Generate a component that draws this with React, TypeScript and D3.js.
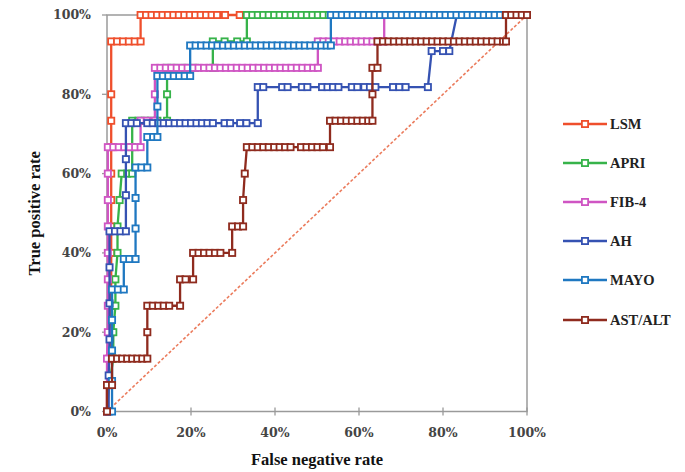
import React from "react";
import * as d3 from "d3";

const W = 685;
const H = 472;
const plot = { left: 107, top: 15, right: 527, bottom: 411.5 };

const xTicks = [0, 20, 40, 60, 80, 100];
const yTicks = [0, 20, 40, 60, 80, 100];

const seriesNames = ["LSM", "APRI", "FIB-4", "AH", "MAYO", "AST/ALT"];
const seriesColors = ["#EF4F2C", "#37B34A", "#CF55C3", "#3552B2", "#1F78C1", "#8F2B1E"];

type Pt = [number, number];

// [false negative rate %, true positive rate %]
const lsm: Pt[] = [
  [0, 0], [0, 6.67], [0.6, 13.33], [1, 20], [1, 26.67], [1, 33.33], [1, 40], [1, 46.67],
  [1, 53.33], [1, 60], [1, 66.67], [1, 73.33], [1, 80], [1, 93.33], [2.4, 93.33], [3.8, 93.33],
  [5.2, 93.33], [6.6, 93.33], [8, 93.33], [8, 100], [9.3, 100], [10.6, 100], [11.9, 100],
  [13.2, 100], [14.5, 100], [15.8, 100], [17.1, 100], [18.4, 100], [19.7, 100], [21, 100],
  [22.3, 100], [23.6, 100], [24.9, 100], [26.2, 100], [28.1, 100], [31.6, 100], [100, 100],
];

const apri: Pt[] = [
  [0, 0], [0.5, 6.67], [1.5, 13.33], [1.5, 20], [2, 26.67], [2, 33.33], [2.5, 40], [2.5, 46.67],
  [3, 53.33], [3.5, 60], [4.8, 60], [6, 60], [6, 66.67], [6, 73.33], [7.5, 73.33], [9, 73.33],
  [10.5, 73.33], [12, 73.33], [14.3, 73.33], [14.3, 80], [14.3, 86.67], [16, 86.67],
  [18.5, 86.67], [21, 86.67], [25.2, 86.67], [25.2, 93.33], [28, 93.33], [31, 93.33],
  [33.3, 93.33], [33.3, 100], [34.6, 100], [35.9, 100], [37.2, 100], [38.5, 100], [39.8, 100],
  [41.1, 100], [42.4, 100], [43.7, 100], [45, 100], [46.3, 100], [47.6, 100], [48.9, 100],
  [50.2, 100], [51.5, 100], [52.8, 100], [100, 100],
];

const fib4: Pt[] = [
  [0, 0], [0, 6.67], [0, 13.33], [0.2, 20], [0.2, 26.67], [0.2, 33.33], [0.2, 40], [0.2, 46.67],
  [0.2, 53.33], [0.2, 60], [0.2, 66.67], [1.5, 66.67], [2.8, 66.67], [4.1, 66.67], [5.4, 66.67],
  [6.7, 66.67], [8, 66.67], [8, 73.33], [9.5, 73.33], [11.4, 73.33], [11.4, 80], [11.4, 86.67],
  [12.7, 86.67], [14, 86.67], [15.3, 86.67], [16.6, 86.67], [17.9, 86.67], [19.2, 86.67],
  [20.5, 86.67], [21.8, 86.67], [23.1, 86.67], [24.4, 86.67], [25.7, 86.67], [27, 86.67],
  [28.3, 86.67], [29.6, 86.67], [30.9, 86.67], [32.2, 86.67], [33.5, 86.67], [34.8, 86.67],
  [36.1, 86.67], [37.4, 86.67], [38.7, 86.67], [40, 86.67], [41.3, 86.67], [42.6, 86.67],
  [43.9, 86.67], [45.2, 86.67], [46.5, 86.67], [47.8, 86.67], [49.1, 86.67], [50.2, 86.67],
  [50.2, 93.33], [51.5, 93.33], [52.8, 93.33], [54.1, 93.33], [55.4, 93.33], [56.7, 93.33],
  [58, 93.33], [59.3, 93.33], [60.6, 93.33], [61.9, 93.33], [63.2, 93.33], [64.5, 93.33],
  [66, 93.33], [66, 100], [100, 100],
];

const ah: Pt[] = [
  [0.4, 0], [0.4, 9.09], [0.6, 18.18], [0.6, 27.27], [0.6, 36.36], [0.6, 45.45], [1.9, 45.45],
  [3.2, 45.45], [4.5, 45.45], [4.5, 54.55], [4.5, 63.64], [4.5, 72.73], [5.8, 72.73],
  [7.1, 72.73], [9.6, 72.73], [10.9, 72.73], [12.2, 72.73], [13.5, 72.73], [14.8, 72.73],
  [16.1, 72.73], [17.4, 72.73], [18.7, 72.73], [20, 72.73], [21.3, 72.73], [22.6, 72.73],
  [23.9, 72.73], [25.2, 72.73], [28, 72.73], [29.3, 72.73], [31.7, 72.73], [33.2, 72.73],
  [35.9, 72.73], [35.9, 81.82], [37.2, 81.82], [41.7, 81.82], [43, 81.82], [46.4, 81.82],
  [47.7, 81.82], [51.2, 81.82], [52.5, 81.82], [53.8, 81.82], [55.1, 81.82], [58.3, 81.82],
  [59.6, 81.82], [61.3, 81.82], [62.6, 81.82], [63.9, 81.82], [68.1, 81.82], [69.6, 81.82],
  [71.1, 81.82], [76.4, 81.82], [77.3, 90.91], [80, 90.91], [81.5, 90.91], [83.3, 100],
  [100, 100],
];

const mayo: Pt[] = [
  [1.2, 0], [1.2, 7.69], [1.2, 15.38], [1.2, 23.08], [1.2, 30.77], [2.6, 30.77], [4, 30.77],
  [4, 38.46], [5.3, 38.46], [6.8, 38.46], [6.8, 46.15], [6.8, 53.85], [6.8, 61.54], [8.2, 61.54],
  [9.6, 61.54], [9.6, 69.23], [11, 69.23], [12, 69.23], [12, 76.92], [12, 84.62], [13.3, 84.62],
  [14.6, 84.62], [15.9, 84.62], [17.2, 84.62], [18.5, 84.62], [19.8, 84.62], [19.8, 92.31],
  [21.1, 92.31], [22.4, 92.31], [23.7, 92.31], [25, 92.31], [26.3, 92.31], [27.6, 92.31],
  [28.9, 92.31], [30.2, 92.31], [31.5, 92.31], [32.8, 92.31], [34.1, 92.31], [35.4, 92.31],
  [36.7, 92.31], [38, 92.31], [39.3, 92.31], [40.6, 92.31], [41.9, 92.31], [43.2, 92.31],
  [44.5, 92.31], [45.8, 92.31], [47.1, 92.31], [48.4, 92.31], [49.7, 92.31], [51, 92.31],
  [52.3, 92.31], [53.3, 92.31], [53.3, 100], [54.6, 100], [55.9, 100], [57.2, 100],
  [58.5, 100], [59.8, 100], [61.1, 100], [62.4, 100], [63.7, 100], [65, 100], [66.3, 100],
  [67.6, 100], [68.9, 100], [70.2, 100], [71.5, 100], [72.8, 100], [74.1, 100], [75.4, 100],
  [76.7, 100], [78, 100], [79.3, 100], [80.6, 100], [81.9, 100], [83.2, 100], [84.5, 100],
  [85.8, 100], [87.1, 100], [88.4, 100], [89.7, 100], [91, 100], [92.3, 100], [93.6, 100],
  [94.9, 100], [100, 100],
];

const astAlt: Pt[] = [
  [0, 0], [0, 6.67], [1.2, 6.67], [1.2, 13.33], [2.4, 13.33], [3.6, 13.33], [4.8, 13.33],
  [6, 13.33], [7.2, 13.33], [8.4, 13.33], [9.6, 13.33], [9.6, 20], [9.6, 26.67], [10.9, 26.67],
  [12.2, 26.67], [13.5, 26.67], [14.8, 26.67], [17.4, 26.67], [17.4, 33.33], [18.7, 33.33],
  [20.5, 33.33], [20.5, 40], [21.8, 40], [23.1, 40], [24.4, 40], [25.7, 40], [27, 40],
  [29.8, 40], [29.8, 46.67], [31.2, 46.67], [32.4, 46.67], [32.4, 53.33], [32.8, 60],
  [33.3, 66.67], [34.6, 66.67], [35.9, 66.67], [37.2, 66.67], [38.5, 66.67], [39.8, 66.67],
  [41.1, 66.67], [42.4, 66.67], [43.7, 66.67], [46.2, 66.67], [47.5, 66.67], [48.8, 66.67],
  [50.1, 66.67], [51.4, 66.67], [53.1, 66.67], [53.1, 73.33], [54.4, 73.33], [55.7, 73.33],
  [57, 73.33], [58.3, 73.33], [59.6, 73.33], [60.9, 73.33], [62.2, 73.33], [63.2, 73.33],
  [63.2, 80], [63.2, 86.67], [64.4, 86.67], [64.4, 93.33], [65.7, 93.33], [67, 93.33],
  [68.3, 93.33], [69.6, 93.33], [70.9, 93.33], [72.2, 93.33], [73.5, 93.33], [74.8, 93.33],
  [76.1, 93.33], [77.4, 93.33], [78.7, 93.33], [80, 93.33], [81.3, 93.33], [82.6, 93.33],
  [83.9, 93.33], [85.2, 93.33], [86.5, 93.33], [87.8, 93.33], [89.1, 93.33], [90.4, 93.33],
  [91.7, 93.33], [93, 93.33], [94.3, 93.33], [95, 93.33], [95, 100], [96.25, 100],
  [97.5, 100], [98.75, 100], [100, 100],
];

const seriesData: Pt[][] = [lsm, apri, fib4, ah, mayo, astAlt];

// Reference line of a random classifier
const chanceLine: Pt[] = [[0, 0], [100, 100]];

const legendY = [124, 163, 202, 241, 280, 320];

export default function App() {
  const x = d3.scaleLinear().domain([0, 100]).range([plot.left, plot.right]);
  const y = d3.scaleLinear().domain([0, 100]).range([plot.bottom, plot.top]);
  const line = d3
    .line<Pt>()
    .x((d) => x(d[0]))
    .y((d) => y(d[1]));

  const ms = 6.2;
  const msw = 1.8;
  const lw = 2.3;
  const tickFont = "'DejaVu Serif', serif";
  const titleFont = "'Liberation Serif', serif";

  return (
    <svg
      width={W}
      height={H}
      viewBox={`0 0 ${W} ${H}`}
      style={{ position: "absolute", left: 0, top: 0, background: "#fff" }}
    >
      <rect x={0} y={0} width={W} height={H} fill="#fff" />

      {/* plot frame */}
      <rect
        x={plot.left}
        y={plot.top}
        width={plot.right - plot.left}
        height={plot.bottom - plot.top}
        fill="none"
        stroke="#9a9a9a"
        strokeWidth={1.5}
      />

      {/* axis ticks */}
      {xTicks.map((t) => (
        <line key={`xt${t}`} x1={x(t)} x2={x(t)} y1={plot.bottom - 4} y2={plot.bottom + 4} stroke="#9a9a9a" strokeWidth={1.3} />
      ))}
      {yTicks.map((t) => (
        <line key={`yt${t}`} x1={plot.left - 5} x2={plot.left} y1={y(t)} y2={y(t)} stroke="#9a9a9a" strokeWidth={1.3} />
      ))}

      {/* tick labels */}
      {xTicks.map((t) => (
        <text
          key={`xl${t}`}
          x={x(t)}
          y={plot.bottom + 25}
          textAnchor="middle"
          fontFamily={tickFont}
          fontWeight="bold"
          fontSize={12.5}
          fill="#444"
        >
          {`${t}%`}
        </text>
      ))}
      {yTicks.map((t) => (
        <text
          key={`yl${t}`}
          x={plot.left - 16}
          y={y(t)}
          dy="0.35em"
          textAnchor="end"
          fontFamily={tickFont}
          fontWeight="bold"
          fontSize={12.5}
          fill="#444"
        >
          {`${t}%`}
        </text>
      ))}

      {/* axis titles */}
      <text
        x={(plot.left + plot.right) / 2}
        y={465}
        textAnchor="middle"
        fontFamily={titleFont}
        fontWeight="bold"
        fontSize={16.5}
        fill="#111"
      >
        False negative rate
      </text>
      <text
        transform={`translate(40, ${(plot.top + plot.bottom) / 2}) rotate(-90)`}
        textAnchor="middle"
        fontFamily={titleFont}
        fontWeight="bold"
        fontSize={16.5}
        fill="#111"
      >
        True positive rate
      </text>

      {/* diagonal chance line */}
      <path
        d={line(chanceLine) ?? ""}
        fill="none"
        stroke="#E8643F"
        strokeWidth={1.6}
        strokeDasharray="3 2"
        opacity={0.85}
      />

      {/* ROC curves */}
      {seriesData.map((pts, i) => (
        <g key={seriesNames[i]}>
          <path d={line(pts) ?? ""} fill="none" stroke={seriesColors[i]} strokeWidth={lw} />
          {pts.map((p, j) => (
            <rect
              key={j}
              x={x(p[0]) - ms / 2}
              y={y(p[1]) - ms / 2}
              width={ms}
              height={ms}
              fill="#fff"
              stroke={seriesColors[i]}
              strokeWidth={msw}
            />
          ))}
        </g>
      ))}

      {/* legend */}
      {seriesNames.map((name, i) => (
        <g key={`lg${name}`}>
          <line x1={563} x2={607} y1={legendY[i]} y2={legendY[i]} stroke={seriesColors[i]} strokeWidth={lw} />
          <rect
            x={585 - ms / 2}
            y={legendY[i] - ms / 2}
            width={ms}
            height={ms}
            fill="#fff"
            stroke={seriesColors[i]}
            strokeWidth={msw}
          />
          <text
            x={610}
            y={legendY[i]}
            dy="0.35em"
            fontFamily={titleFont}
            fontWeight="bold"
            fontSize={14.5}
            fill="#222"
          >
            {name}
          </text>
        </g>
      ))}
    </svg>
  );
}
